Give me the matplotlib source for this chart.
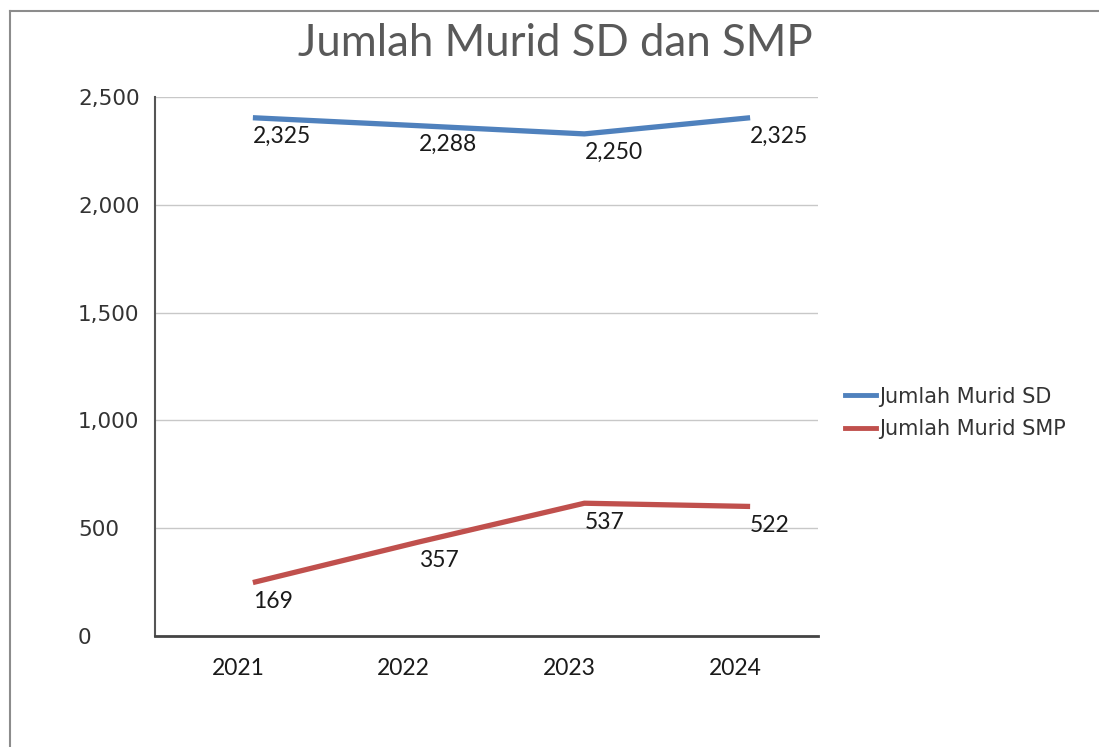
import matplotlib
matplotlib.use("Agg")
import matplotlib.pyplot as plt
import matplotlib.transforms as mtransforms
from matplotlib.lines import Line2D

years = ["2021", "2022", "2023", "2024"]
sd_values = [2325, 2288, 2250, 2325]
smp_values = [169, 357, 537, 522]
series_names = ["Jumlah Murid SD", "Jumlah Murid SMP"]
y_ticks = [0, 500, 1000, 1500, 2000, 2500]
title = "Jumlah Murid SD dan SMP"

narrow = ["Lato", "DejaVu Sans"]
wide = ["DejaVu Sans"]

W, H = 1099, 747
fig = plt.figure(figsize=(W / 100, H / 100), dpi=100)
fig.patch.set_facecolor("white")

ax = fig.add_axes([155 / W, 1 - 636 / H, (818 - 155) / W, (636 - 97) / H])
ax.set_xlim(-0.5, len(years) - 0.5)
ax.set_ylim(0, 2500)

# series drawn slightly offset, as in the reference
shift = mtransforms.ScaledTranslation(15 / 100, 17 / 100, fig.dpi_scale_trans)
trans = ax.transData + shift

colors = ["#4F81BD", "#C0504D"]
x = list(range(len(years)))
for vals, name, c in [(sd_values, series_names[0], colors[0]),
                      (smp_values, series_names[1], colors[1])]:
    ax.plot(x, vals, color=c, lw=3.8, transform=trans, label=name,
            solid_capstyle="butt", solid_joinstyle="miter", clip_on=False)
    for xi, v in zip(x, vals):
        ax.annotate(f"{v:,}", (xi, v), xycoords=trans, xytext=(0, -6),
                    textcoords="offset points", ha="left", va="top",
                    fontsize=16.5, family=narrow, color="#1a1a1a")

ax.set_yticks(y_ticks)
ax.set_yticklabels([f"{t:,}" for t in y_ticks], ha="left", family=wide,
                   fontsize=15.5, color="#333333")
ax.tick_params(axis="y", length=0, pad=77 * 0.72)
ax.set_xticks(x)
ax.set_xticklabels(years, family=narrow, fontsize=16.5, color="#1a1a1a")
ax.tick_params(axis="x", length=0, pad=16)

ax.grid(axis="y", color="#c8c8c8", lw=1)
ax.set_axisbelow(True)
for s in ["top", "right"]:
    ax.spines[s].set_visible(False)
ax.spines["left"].set_color("#555555")
ax.spines["left"].set_linewidth(1.5)
ax.spines["bottom"].set_color("#444444")
ax.spines["bottom"].set_linewidth(2)

fig.text(555 / W, 1 - 44 / H, title, ha="center", va="center",
         fontsize=31.5, family=narrow, color="#595959")

handles = [Line2D([], [], color=colors[0], lw=3.5),
           Line2D([], [], color=colors[1], lw=3.5)]
fig.legend(handles, series_names, loc="center left",
           bbox_to_anchor=(845 / W, 1 - 413 / H), frameon=False,
           prop={"family": wide, "size": 15}, labelcolor="#333333",
           handlelength=1.5, handletextpad=0.12, borderpad=0,
           borderaxespad=0, labelspacing=0.6)

# outer chart border (left and top)
fig.add_artist(Line2D([9.5 / W, 9.5 / W], [0, 1 - 11 / H], transform=fig.transFigure,
                      color="#8c8c8c", lw=1.5))
fig.add_artist(Line2D([9.5 / W, 1], [1 - 11 / H, 1 - 11 / H], transform=fig.transFigure,
                      color="#8c8c8c", lw=1.5))

fig.savefig("out.png", dpi=100)
